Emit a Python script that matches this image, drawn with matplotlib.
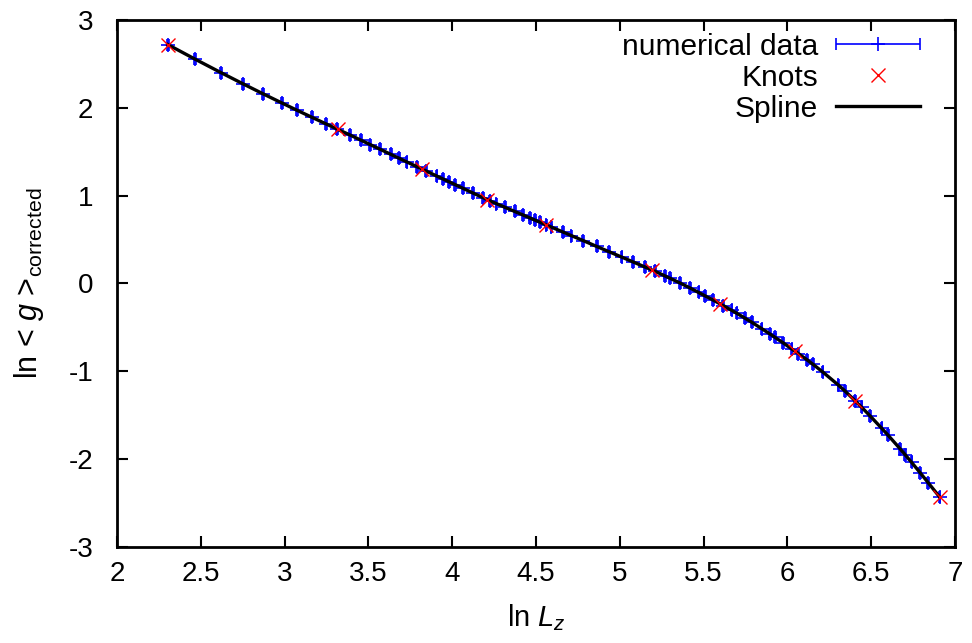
import matplotlib
matplotlib.use("Agg")
import matplotlib.pyplot as plt
from matplotlib.container import ErrorbarContainer
from matplotlib.legend_handler import HandlerErrorbar

plt.rcParams['font.family'] = ['Liberation Sans', 'DejaVu Sans']
plt.rcParams['mathtext.fontset'] = 'custom'
plt.rcParams['mathtext.rm'] = 'Liberation Sans'
plt.rcParams['mathtext.it'] = 'Liberation Sans:italic'
plt.rcParams['axes.unicode_minus'] = False

# numerical data (ln L_z, ln <g>_corrected)
data_x = [2.303, 2.465, 2.619, 2.753, 2.873, 2.983, 3.072,
          3.162, 3.245, 3.311, 3.39, 3.456, 3.51, 3.569, 3.635, 3.684, 3.728, 3.788, 3.843, 3.907,
          3.946, 3.98, 4.016, 4.066, 4.125, 4.185, 4.224, 4.264, 4.314, 4.373, 4.423, 4.463, 4.492,
          4.522, 4.562, 4.592, 4.661, 4.711,
          4.782, 4.862, 4.937, 5.011, 5.08, 5.15, 5.21, 5.27, 5.30, 5.36, 5.42, 5.47, 5.51, 5.558,
          5.617, 5.667, 5.697, 5.747, 5.787, 5.846, 5.896, 5.926, 5.975, 6.025, 6.065, 6.115, 6.154,
          6.21, 6.304, 6.344, 6.403, 6.443, 6.493, 6.562, 6.602, 6.672, 6.702, 6.741, 6.791, 6.84, 6.908]
data_y = [2.72, 2.555, 2.402, 2.272, 2.158, 2.056, 1.974,
          1.893, 1.819, 1.76, 1.691, 1.631, 1.582, 1.529, 1.469, 1.425, 1.385, 1.331, 1.282, 1.224,
          1.189, 1.159, 1.127, 1.082, 1.029, 0.976, 0.942, 0.909, 0.868, 0.820, 0.780, 0.747, 0.723,
          0.699, 0.666, 0.642, 0.586, 0.545,
          0.488, 0.422, 0.361, 0.301, 0.245, 0.188, 0.139, 0.086, 0.059, 0.005, -0.052, -0.102, -0.142, -0.190,
          -0.251, -0.305, -0.338, -0.395, -0.441, -0.513, -0.575, -0.613, -0.676, -0.744, -0.797, -0.866, -0.922,
          -1.006, -1.156, -1.225, -1.333, -1.409, -1.507, -1.647, -1.730, -1.881, -1.948, -2.036, -2.152, -2.268, -2.43]
data_xerr = 0.005

# spline knots
knot_x = [2.303, 3.32, 3.818, 4.21, 4.56, 5.19, 5.598, 6.045, 6.403, 6.908]
knot_y = [2.72, 1.754, 1.304, 0.953, 0.668, 0.156, -0.231, -0.771, -1.333, -2.43]

x_ticks = [2, 2.5, 3, 3.5, 4, 4.5, 5, 5.5, 6, 6.5, 7]
x_ticklabels = ['2', '2.5', '3', '3.5', '4', '4.5', '5', '5.5', '6', '6.5', '7']
y_ticks = [-3, -2, -1, 0, 1, 2, 3]
y_ticklabels = ['-3', '-2', '-1', '0', '1', '2', '3']

fig = plt.figure(figsize=(9.72, 6.43), dpi=100)
ax = fig.add_axes([0.1204, 0.1493, 0.8621, 0.8196])

eb = ax.errorbar(data_x, data_y, xerr=data_xerr, fmt='+', color='blue', ecolor='blue',
                 ms=10, mew=1.2, elinewidth=1.2, capsize=4.5, capthick=1.2,
                 label='numerical data', zorder=2)
ax.plot(data_x, data_y, color='black', lw=2.4, label='Spline', zorder=3)
ax.plot(knot_x, knot_y, 'x', color='red', ms=10, mew=1.0, label='Knots', zorder=4)

ax.set_xlim(2, 7)
ax.set_ylim(-3, 3)
ax.set_xticks(x_ticks)
ax.set_xticklabels(x_ticklabels)
ax.set_yticks(y_ticks)
ax.set_yticklabels(y_ticklabels)
ax.tick_params(direction='in', length=8, width=1.5, top=True, right=True, labelsize=20)
ax.tick_params(axis='x', pad=10)
ax.tick_params(axis='y', pad=17)
for s in ax.spines.values():
    s.set_linewidth(2)

ax.set_xlabel(r'ln $L_z$', fontsize=21, labelpad=11)
ax.set_ylabel(r'ln < $g$ >$_{\rm corrected}$', fontsize=22, labelpad=16)

handles, labels = ax.get_legend_handles_labels()
order = [labels.index('numerical data'), labels.index('Knots'), labels.index('Spline')]
leg = ax.legend([handles[i] for i in order], [labels[i] for i in order],
                loc='upper right', bbox_to_anchor=(0.958, 0.976),
                frameon=False, markerfirst=False, fontsize=21.5,
                handlelength=2.8, handletextpad=0.6, labelspacing=0.1,
                borderaxespad=0.0, borderpad=0.0,
                handler_map={ErrorbarContainer: HandlerErrorbar(xerr_size=1.4)})

fig.savefig('out.png', dpi=100)
